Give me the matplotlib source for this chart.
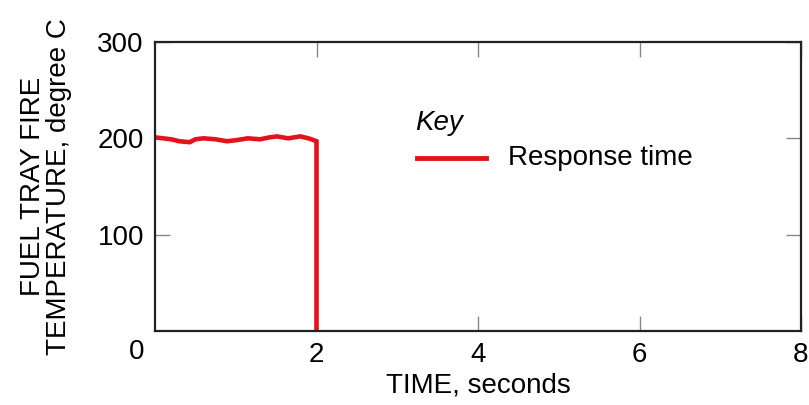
import matplotlib
matplotlib.use("Agg")
from matplotlib import pyplot as plt

plt.rcParams['font.family'] = ['Liberation Sans', 'DejaVu Sans']

# response time trace
time_s = [0.0, 0.1, 0.2, 0.3, 0.43, 0.5, 0.6, 0.75, 0.89, 1.0, 1.15, 1.3, 1.42, 1.51, 1.65, 1.8, 1.9, 1.97, 2.0, 2.0]
temp_c = [201, 200, 199, 197, 196, 199, 200, 199, 197, 198, 200, 199, 201, 202, 200, 202, 200, 198, 197, 0]

x_ticks = [2, 4, 6, 8]
y_ticks = [100, 200, 300]

fs = 20

fig = plt.figure(figsize=(8.09, 4.05), dpi=100)
ax = fig.add_axes([155/809, 1 - 331/405, (801-155)/809, (331-42)/405])

ax.plot(time_s, temp_c, color='#e3131b', linewidth=3.3, solid_joinstyle='miter')
ax.set_xlim(0, 8)
ax.set_ylim(0, 300)
ax.set_xticks(x_ticks)
ax.set_yticks(y_ticks)

for spine in ax.spines.values():
    spine.set_linewidth(1.6)
    spine.set_color('#222222')

ax.tick_params(axis='both', which='both', direction='in', length=11, width=1,
               color='#888888', labelsize=fs, top=True, right=True, pad=8)

# shared origin label
ax.text(-0.028, -0.073, '0', transform=ax.transAxes, fontsize=fs,
        ha='center', va='center')

ax.set_xlabel('TIME, seconds', fontsize=fs, labelpad=3)
ax.set_ylabel('FUEL TRAY FIRE\nTEMPERATURE, degree C', fontsize=fs, labelpad=18,
              linespacing=1.0)

# hand-drawn key
ax.text(3.22, 216, 'Key', fontsize=fs, style='italic', ha='left', va='center')
ax.plot([3.25, 4.1], [180, 180], color='#e3131b', linewidth=3.5)
ax.text(4.37, 180, 'Response time', fontsize=fs, ha='left', va='center')

plt.savefig('out.png', dpi=100)
